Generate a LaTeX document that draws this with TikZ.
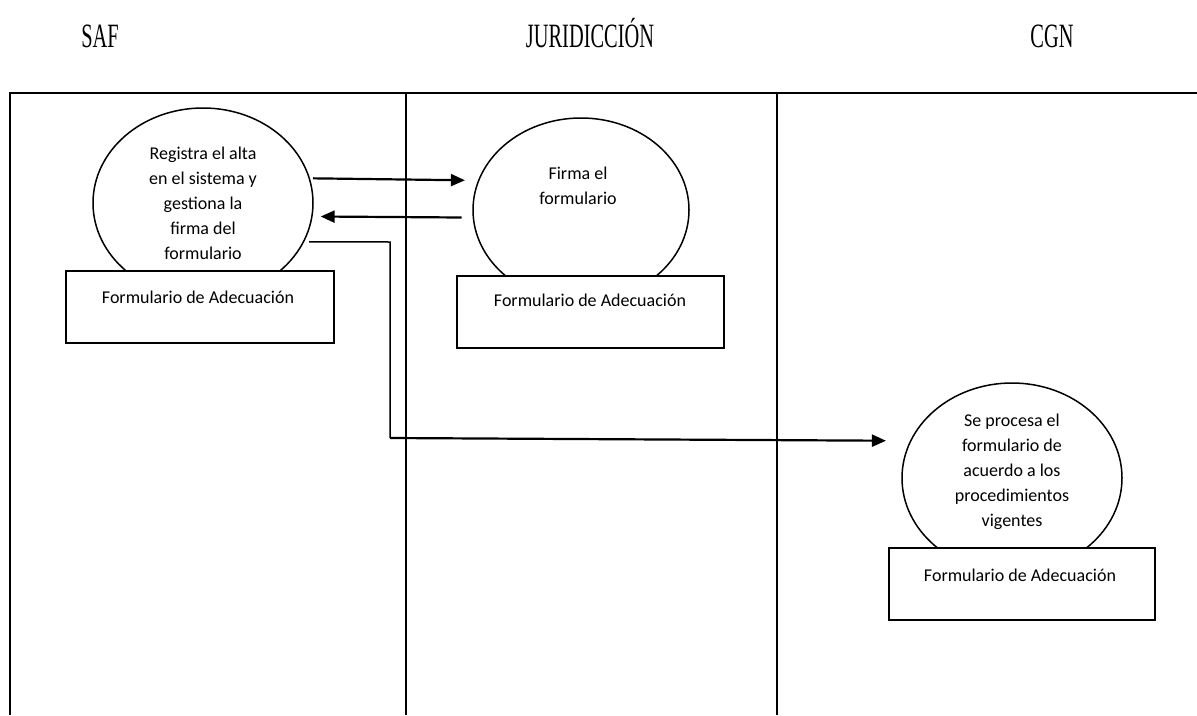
\documentclass[tikz,border=0pt]{standalone}
\usepackage{fontspec}
\setmainfont{Carlito}
\newfontfamily\headfont{Liberation Serif}
\usetikzlibrary{shapes.geometric,arrows.meta}
\newcommand{\hd}[1]{\scalebox{0.85}[1.42]{#1}}
\begin{document}
\begin{tikzpicture}[x=1pt,y=-1pt,
 frame/.style={line width=2pt},
 proc/.style={draw, ellipse, line width=1.5pt, minimum width=220pt, minimum height=190pt, inner sep=0pt},
 doc/.style={draw, fill=white, line width=1.5pt, minimum width=268pt, minimum height=72pt, inner sep=0pt},
 lbl/.style={font=\fontsize{18}{25}\selectfont, align=center, inner sep=0pt},
 head/.style={font=\headfont\fontsize{24}{28}\selectfont, inner sep=0pt, anchor=base},
 flow/.style={line width=2.2pt, -{Triangle[length=14pt,width=12pt]}},
 thinline/.style={line width=1.5pt}]
\useasboundingbox (0,0) rectangle (1197,715);
% headers
\node[head] (hsaf) at (100,47) {\hd{SAF}};
\node[head] (hjur) at (590,47) {\hd{JURIDICCIÓN}};
\node[head] (hcgn) at (1052,47) {\hd{CGN}};
% frame
\draw[frame] (10,715) -- (10,93) -- (1197,93);
\draw[frame] (406,93) -- (406,715);
\draw[frame] (777,93) -- (777,715);
% processes
\node[proc] (s1) at (203,203) {};
\node[proc, minimum width=216pt, minimum height=184pt] (j1) at (581,210) {};
\node[proc] (g1) at (1012,478) {};
% documents
\node[doc] (sdoc) at (200,307) {};
\node[doc, minimum width=267pt] (jdoc) at (590.5,312) {};
\node[doc, minimum width=266pt] (gdoc) at (1022,584) {};
% texts
\node[lbl] (s1t) at (203,203) {Registra el alta\\en el sistema y\\gestiona la\\firma del\\formulario};
\node[lbl] (j1t) at (578,186) {Firma el\\formulario};
\node[lbl] (g1t) at (1012,472) {Se procesa el\\formulario de\\acuerdo a los\\procedimientos\\vigentes};
\node[lbl] (sdoct) at (198,297) {Formulario de Adecuación};
\node[lbl] (jdoct) at (590,300) {Formulario de Adecuación};
\node[lbl] (gdoct) at (1020,575) {Formulario de Adecuación};
% connectors
\draw[flow, shorten <=3pt, shorten >=13pt] (s1.13) -- (j1.164);
\draw[flow, shorten <=11pt, shorten >=8pt] (j1.184) -- (s1.-7);
\coordinate (c1) at (390,242);
\coordinate (c2) at (390,438);
\draw[thinline, shorten <=5pt] (s1.-21) -- (c1) -- (c2);
\draw[flow, shorten >=24pt] (c2) -- (g1.160);
\end{tikzpicture}
\end{document}
